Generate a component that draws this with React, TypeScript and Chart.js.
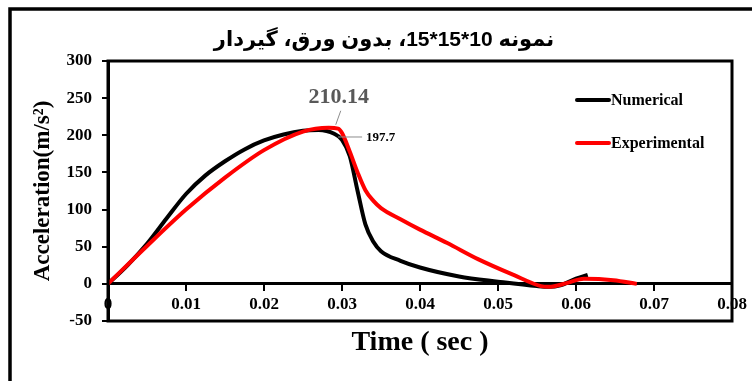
import React, { useEffect, useRef } from 'react';
import { Chart, registerables } from 'chart.js';

Chart.register(...registerables);

const chartTitle = 'نمونه 10*15*15، بدون ورق، گیردار';
const xAxisTitle = 'Time ( sec )';
const yAxisTitle = 'Acceleration(m/s²)';

const xTicks = [0, 0.01, 0.02, 0.03, 0.04, 0.05, 0.06, 0.07, 0.08];
const yTicks = [-50, 0, 50, 100, 150, 200, 250, 300];

const seriesLabels = ['Numerical', 'Experimental'];
const seriesColors = ['#000000', '#ff0000'];

const numericalTime = [0, 0.0025, 0.005, 0.0075, 0.01, 0.0125, 0.015, 0.0175, 0.02, 0.0225, 0.025, 0.027, 0.029, 0.03, 0.031, 0.032, 0.033, 0.034, 0.035, 0.0375, 0.04, 0.045, 0.05, 0.055, 0.0565, 0.058, 0.06, 0.0615];
const numericalAcc = [0, 25, 54, 88, 121, 146, 165, 181, 193, 201, 206, 207, 202, 194, 172, 125, 80, 57, 44, 31, 22, 10, 3, -3, -4, -2, 7, 12];

const experimentalTime = [0, 0.005, 0.01, 0.015, 0.02, 0.025, 0.0283, 0.0295, 0.03, 0.031, 0.032, 0.033, 0.034, 0.035, 0.0375, 0.04, 0.0435, 0.0475, 0.052, 0.0555, 0.0565, 0.0588, 0.061, 0.0648, 0.0678];
const experimentalAcc = [0, 51, 100, 143, 180, 205, 210.14, 209, 203, 178, 150, 126, 112, 102, 87, 73, 55, 33, 12, -3, -4, 1, 7, 5, 0];

const peakLabelTime = [0.0283, 0.0295];
const peakLabelValue = [210.14, 197.7];
const peakLabelText = ['210.14', '197.7'];

const serif = "'Liberation Serif', 'Times New Roman', serif";

const overlayPlugin = {
  id: 'overlay',
  afterDraw(chart: any) {
    const { ctx, chartArea, scales } = chart;
    const xs = scales.x;
    const ys = scales.y;
    ctx.save();
    // outer frame
    ctx.strokeStyle = '#000';
    ctx.lineWidth = 3.5;
    ctx.strokeRect(10, 9, 760, 390);
    // plot frame
    ctx.lineWidth = 3;
    ctx.strokeRect(chartArea.left, chartArea.top, chartArea.right - chartArea.left, chartArea.bottom - chartArea.top);

    // title (right-to-left paragraph)
    ctx.fillStyle = '#000';
    ctx.font = "bold 21px 'Liberation Sans', 'DejaVu Sans', sans-serif";
    ctx.textBaseline = 'middle';
    ctx.textAlign = 'center';
    (ctx as any).direction = 'rtl';
    ctx.fillText(chartTitle, 384, 40);
    (ctx as any).direction = 'ltr';

    // axis titles
    ctx.textAlign = 'center';
    ctx.font = `bold 28px ${serif}`;
    ctx.fillText(xAxisTitle, (chartArea.left + chartArea.right) / 2, 343);
    ctx.save();
    ctx.translate(43, (chartArea.top + chartArea.bottom) / 2);
    ctx.rotate(-Math.PI / 2);
    ctx.font = `bold 23px ${serif}`;
    ctx.fillText(yAxisTitle, 0, 0);
    ctx.restore();

    // legend
    const legendY = [100, 143];
    seriesLabels.forEach((lab, i) => {
      ctx.strokeStyle = seriesColors[i];
      ctx.lineWidth = 4;
      ctx.lineCap = 'round';
      ctx.beginPath();
      ctx.moveTo(577, legendY[i]);
      ctx.lineTo(609, legendY[i]);
      ctx.stroke();
      ctx.fillStyle = '#000';
      ctx.font = `bold 16px ${serif}`;
      ctx.textAlign = 'left';
      ctx.textBaseline = 'middle';
      ctx.fillText(lab, 611, legendY[i] + 1);
    });

    // data labels
    ctx.lineCap = 'butt';
    const ax0 = xs.getPixelForValue(peakLabelTime[0]);
    const ay0 = ys.getPixelForValue(peakLabelValue[0]);
    ctx.strokeStyle = '#8c8c8c';
    ctx.lineWidth = 1;
    ctx.beginPath();
    ctx.moveTo(ax0 + 7, ay0 - 3);
    ctx.lineTo(ax0 + 12, ay0 - 17);
    ctx.stroke();
    ctx.fillStyle = '#595959';
    ctx.font = `bold 22px ${serif}`;
    ctx.textAlign = 'center';
    ctx.textBaseline = 'alphabetic';
    ctx.fillText(peakLabelText[0], ax0 + 10, ay0 - 25);

    const ax1 = xs.getPixelForValue(peakLabelTime[1]);
    const ay1 = ys.getPixelForValue(peakLabelValue[1]);
    ctx.beginPath();
    ctx.moveTo(ax1, ay1);
    ctx.lineTo(ax1 + 24, ay1);
    ctx.stroke();
    ctx.fillStyle = '#000';
    ctx.font = `bold 13px ${serif}`;
    ctx.textAlign = 'left';
    ctx.textBaseline = 'middle';
    ctx.fillText(peakLabelText[1], ax1 + 28, ay1 + 1);
    ctx.restore();
  },
};

export default function App() {
  const canvasRef = useRef<HTMLCanvasElement | null>(null);

  useEffect(() => {
    document.body.style.margin = '0';
    const canvas = canvasRef.current;
    if (!canvas) return;
    const toPoints = (t: number[], a: number[]) => t.map((v, i) => ({ x: v, y: a[i] }));
    const chart = new Chart(canvas, {
      type: 'line',
      data: {
        datasets: [
          {
            label: seriesLabels[0],
            data: toPoints(numericalTime, numericalAcc),
            borderColor: seriesColors[0],
            borderWidth: 4,
            pointRadius: 0,
            cubicInterpolationMode: 'monotone',
            fill: false,
            order: 1,
          },
          {
            label: seriesLabels[1],
            data: toPoints(experimentalTime, experimentalAcc),
            borderColor: seriesColors[1],
            borderWidth: 4,
            pointRadius: 0,
            cubicInterpolationMode: 'monotone',
            fill: false,
            order: 0,
          },
        ],
      },
      options: {
        animation: false,
        responsive: false,
        events: [],
        layout: { padding: { left: 0, top: 61, right: 20, bottom: 60 } },
        plugins: {
          legend: { display: false },
          title: { display: false },
          tooltip: { enabled: false },
        },
        scales: {
          x: {
            type: 'linear',
            position: { y: 0 } as any,
            min: 0,
            max: 0.08,
            afterBuildTicks: (s: any) => {
              s.ticks = xTicks.map((v) => ({ value: v }));
            },
            afterFit: (s: any) => {
              s.height = 0;
            },
            ticks: {
              autoSkip: false,
              maxRotation: 0,
              padding: 5,
              color: '#000',
              font: { family: serif, size: 17, weight: 'bold' },
              callback: (v: any) => (Number(v) === 0 ? '0' : Number(v).toFixed(2)),
            },
            grid: { drawOnChartArea: false, drawTicks: true, tickLength: 6, lineWidth: 2, color: '#000' },
            border: { display: true, width: 3, color: '#000' },
          },
          y: {
            type: 'linear',
            min: -50,
            max: 300,
            afterBuildTicks: (s: any) => {
              s.ticks = yTicks.map((v) => ({ value: v }));
            },
            afterFit: (s: any) => {
              s.width = 108;
            },
            ticks: {
              padding: 10,
              color: '#000',
              font: { family: serif, size: 17, weight: 'bold' },
              callback: (v: any) => String(v),
            },
            grid: { drawOnChartArea: false, drawTicks: true, tickLength: 6, lineWidth: 2, color: '#000' },
            border: { display: true, width: 3, color: '#000' },
          },
        },
      },
      plugins: [overlayPlugin],
    } as any);
    return () => chart.destroy();
  }, []);

  return (
    <div style={{ width: 752, height: 381 }}>
      <canvas ref={canvasRef} width={752} height={381} style={{ display: 'block' }} />
    </div>
  );
}
